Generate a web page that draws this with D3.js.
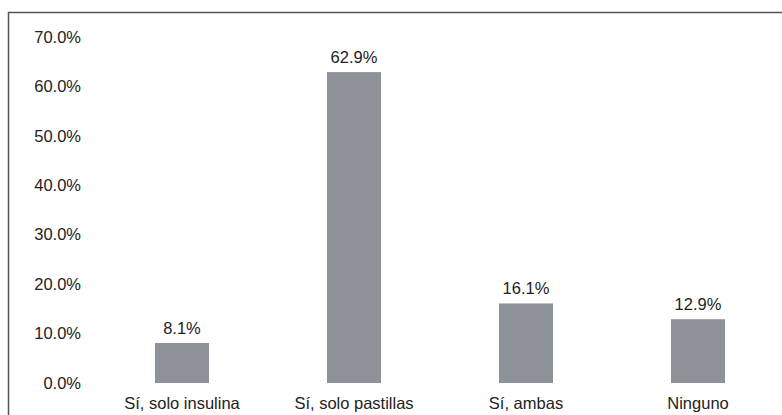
<!DOCTYPE html>
<html>
<head>
<meta charset="utf-8">
<script src="https://cdn.jsdelivr.net/npm/d3@7"></script>
<style>
  body { margin: 0; background: #fff; }
  text { font-family: "Liberation Sans", Arial, sans-serif; fill: #222; }
</style>
</head>
<body>
<svg></svg>
<script>
const categories = ["Sí, solo insulina", "Sí, solo pastillas", "Sí, ambas", "Ninguno"];
const values = [8.1, 62.9, 16.1, 12.9];
const yTicks = [0, 10, 20, 30, 40, 50, 60, 70];

let width = 782;
let height = 415;
let fontSize = 16.5;

const svg = d3.select("svg").attr("width", width).attr("height", height);

// frame around the chart (runs off the right and bottom edge)
svg.append("rect")
  .attr("x", 8.5)
  .attr("y", 12.5)
  .attr("width", 800)
  .attr("height", 420)
  .attr("fill", "none")
  .attr("stroke", "#555")
  .attr("stroke-width", 1.5);

const xScale = d3.scaleBand()
  .domain(categories)
  .range([96, 784])
  .paddingInner(0.686)
  .paddingOuter(0.343);

const yScale = d3.scaleLinear()
  .domain([0, 70])
  .range([383, 37]);

const yAxis = d3.axisLeft(yScale)
  .tickValues(yTicks)
  .tickSize(0)
  .tickPadding(0)
  .tickFormat((d) => d.toFixed(1) + "%");

const gy = svg.append("g")
  .attr("transform", "translate(81, 0)")
  .call(yAxis);
gy.select(".domain").remove();
gy.selectAll("text")
  .attr("font-size", fontSize)
  .attr("fill", "#222")
  .attr("font-family", "Liberation Sans, Arial, sans-serif");

const xAxis = d3.axisBottom(xScale).tickSize(0).tickPadding(0);
const gx = svg.append("g")
  .attr("transform", "translate(0, 397)")
  .call(xAxis);
gx.select(".domain").remove();
gx.selectAll("text")
  .attr("font-size", fontSize)
  .attr("fill", "#222")
  .attr("font-family", "Liberation Sans, Arial, sans-serif");

svg.selectAll(".bar")
  .data(values)
  .enter()
  .append("rect")
  .attr("class", "bar")
  .attr("x", (d, i) => xScale(categories[i]))
  .attr("y", (d) => yScale(d))
  .attr("width", xScale.bandwidth())
  .attr("height", (d) => yScale(0) - yScale(d))
  .attr("fill", "#8e9399");

svg.selectAll(".label")
  .data(values)
  .enter()
  .append("text")
  .attr("class", "label")
  .attr("x", (d, i) => xScale(categories[i]) + xScale.bandwidth() / 2)
  .attr("y", (d) => yScale(d) - 9)
  .attr("text-anchor", "middle")
  .attr("font-size", fontSize)
  .text((d) => d.toFixed(1) + "%");
</script>
</body>
</html>
